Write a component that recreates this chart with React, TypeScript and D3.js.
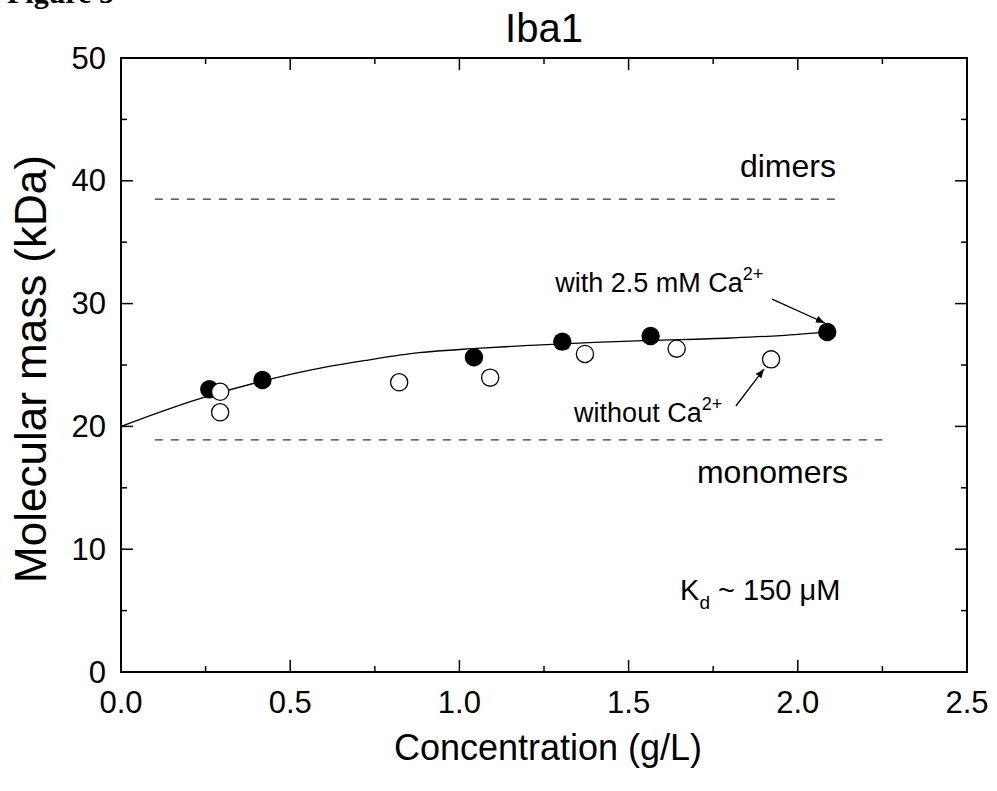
import React from "react"
import * as d3 from "d3"

const W = 997
const H = 791
const FONT = "'Liberation Sans', Arial, sans-serif"

// filled circles: with 2.5 mM Ca2+
const withCaX = [0.261, 0.418, 1.043, 1.304, 1.565, 2.087]
const withCaY = [23.02, 23.78, 25.63, 26.9, 27.36, 27.69]

// open circles: without Ca2+
const noCaX = [0.293, 0.293, 0.822, 1.091, 1.371, 1.642, 1.921]
const noCaY = [22.82, 21.15, 23.59, 23.97, 25.9, 26.33, 25.46]

// fitted curve
const fitX = [0, 0.17, 0.25, 0.42, 0.6, 0.73, 0.88, 1.05, 1.21, 1.4, 1.56, 1.8, 1.95, 2.09]
const fitY = [20.0, 21.7, 22.4, 23.7, 24.8, 25.4, 26.0, 26.35, 26.6, 26.85, 27.0, 27.2, 27.4, 27.7]

// reference levels
const levelNames = ["dimers", "monomers"]
const levelY = [38.5, 18.9]
const levelX0 = [0.1, 0.1]
const levelX1 = [2.116, 2.25]

const xTicks = [0, 0.5, 1.0, 1.5, 2.0, 2.5]
const xMinor = [0.25, 0.75, 1.25, 1.75, 2.25]
const yTicks = [0, 10, 20, 30, 40, 50]
const yMinor = [5, 15, 25, 35, 45]

export default function App() {
  const margin = { left: 121, top: 58, right: W - 967, bottom: H - 672 }
  const x = d3.scaleLinear().domain([0, 2.5]).range([margin.left, W - margin.right])
  const y = d3.scaleLinear().domain([0, 50]).range([H - margin.bottom, margin.top])
  const x0 = x(0), x1 = x(2.5), y0 = y(0), y1 = y(50)

  const fitPts = fitX.map((v, i) => [v, fitY[i]] as [number, number])
  const line = d3
    .line<[number, number]>()
    .x(d => x(d[0]))
    .y(d => y(d[1]))
    .curve(d3.curveMonotoneX)

  const major = 12
  const minor = 6

  return (
    <svg
      width={W}
      height={H}
      style={{ position: "absolute", left: 0, top: 0, background: "#fff" }}
      fontFamily={FONT}
    >
      <defs>
        <marker id="arr" viewBox="0 0 10 10" refX="10" refY="5" markerWidth="9" markerHeight="9" orient="auto" markerUnits="userSpaceOnUse">
          <path d="M0,1 L10,5 L0,9 z" fill="#000" />
        </marker>
      </defs>

      <text x={7} y={3} fontFamily="'Liberation Serif', serif" fontWeight="bold" fontSize={30}>
        Figure 5
      </text>

      <text x={(x0 + x1) / 2} y={42} fontSize={40} textAnchor="middle">
        Iba1
      </text>

      {/* dashed reference lines */}
      {levelNames.map((n, i) => (
        <line
          key={n}
          x1={x(levelX0[i])}
          x2={x(levelX1[i])}
          y1={y(levelY[i])}
          y2={y(levelY[i])}
          stroke="#333"
          strokeWidth={1.3}
          strokeDasharray="8,8"
        />
      ))}

      {/* fit */}
      <path d={line(fitPts) || ""} fill="none" stroke="#000" strokeWidth={1.3} />

      {withCaX.map((v, i) => (
        <circle key={"f" + i} cx={x(v)} cy={y(withCaY[i])} r={9.2} fill="#000" />
      ))}
      {noCaX.map((v, i) => (
        <circle key={"o" + i} cx={x(v)} cy={y(noCaY[i])} r={8.6} fill="#fff" stroke="#000" strokeWidth={1.3} />
      ))}

      {/* annotations */}
      <text x={x(1.829)} y={y(40.3)} fontSize={32}>dimers</text>
      <text x={x(1.702)} y={y(15.4)} fontSize={32}>monomers</text>
      <text x={x(1.283)} y={y(30.94)} fontSize={27}>
        with 2.5 mM Ca
        <tspan fontSize={18} dy={-12}>2+</tspan>
      </text>
      <text x={x(1.339)} y={y(20.36)} fontSize={27}>
        without Ca
        <tspan fontSize={18} dy={-12}>2+</tspan>
      </text>
      <text x={x(1.652)} y={y(5.86)} fontSize={29}>
        K
        <tspan fontSize={19} dy={9}>d</tspan>
        <tspan dy={-9}> ~ 150 μM</tspan>
      </text>
      <line x1={x(1.924)} y1={y(30.37)} x2={x(2.08)} y2={y(28.42)} stroke="#000" strokeWidth={1.3} markerEnd="url(#arr)" />
      <line x1={x(1.817)} y1={y(21.66)} x2={x(1.9)} y2={y(24.67)} stroke="#000" strokeWidth={1.3} markerEnd="url(#arr)" />

      {/* frame */}
      <rect x={x0} y={y1} width={x1 - x0} height={y0 - y1} fill="none" stroke="#000" strokeWidth={2} />

      {xTicks.map(t => (
        <g key={"xt" + t}>
          <line x1={x(t)} x2={x(t)} y1={y0} y2={y0 - major} stroke="#000" strokeWidth={1.5} />
          <line x1={x(t)} x2={x(t)} y1={y1} y2={y1 + major} stroke="#000" strokeWidth={1.5} />
          <text x={x(t)} y={y0 + 41} fontSize={31} textAnchor="middle">
            {t.toFixed(1)}
          </text>
        </g>
      ))}
      {xMinor.map(t => (
        <g key={"xm" + t}>
          <line x1={x(t)} x2={x(t)} y1={y0} y2={y0 - minor} stroke="#000" strokeWidth={1.5} />
          <line x1={x(t)} x2={x(t)} y1={y1} y2={y1 + minor} stroke="#000" strokeWidth={1.5} />
        </g>
      ))}
      {yTicks.map(t => (
        <g key={"yt" + t}>
          <line x1={x0} x2={x0 + major} y1={y(t)} y2={y(t)} stroke="#000" strokeWidth={1.5} />
          <line x1={x1} x2={x1 - major} y1={y(t)} y2={y(t)} stroke="#000" strokeWidth={1.5} />
          <text x={x0 - 15} y={y(t)} fontSize={31} textAnchor="end" dominantBaseline="central">
            {t}
          </text>
        </g>
      ))}
      {yMinor.map(t => (
        <g key={"ym" + t}>
          <line x1={x0} x2={x0 + minor} y1={y(t)} y2={y(t)} stroke="#000" strokeWidth={1.5} />
          <line x1={x1} x2={x1 - minor} y1={y(t)} y2={y(t)} stroke="#000" strokeWidth={1.5} />
        </g>
      ))}

      <text x={(x0 + x1) / 2 + 4} y={760} fontSize={36} textAnchor="middle">
        Concentration (g/L)
      </text>
      <text
        transform={`translate(46, 369) rotate(-90)`}
        fontSize={44}
        textAnchor="middle"
      >
        Molecular mass (kDa)
      </text>
    </svg>
  )
}
